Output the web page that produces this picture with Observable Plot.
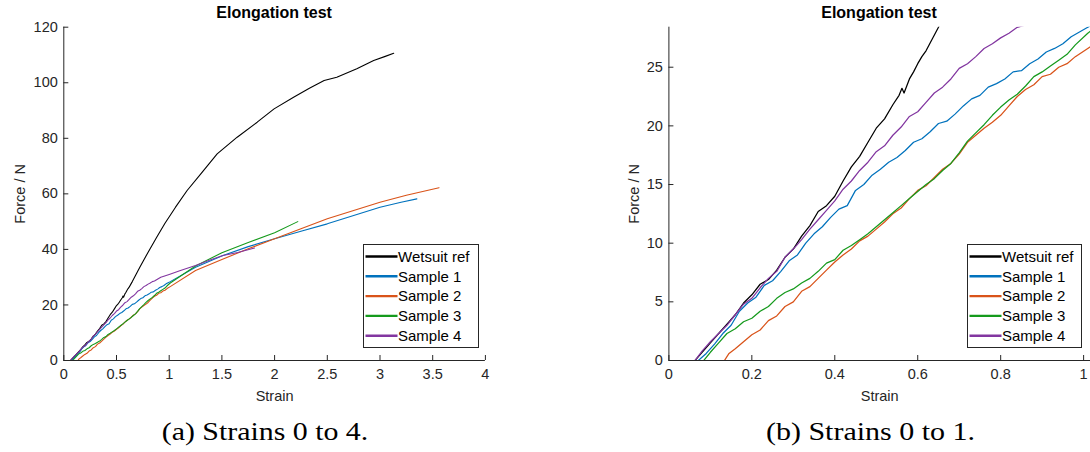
<!DOCTYPE html>
<html>
<head>
<meta charset="utf-8">
<script src="https://cdn.jsdelivr.net/npm/d3@7"></script>
<script src="https://cdn.jsdelivr.net/npm/@observablehq/plot@0.6"></script>
<style>
  html, body { margin: 0; padding: 0; background: #fff; }
  body { width: 1090px; height: 452px; position: relative; overflow: hidden; }
  .panel { position: absolute; top: 0; }
  .panel svg { background: transparent; }
</style>
</head>
<body>
<div id="pa" class="panel" style="left:0px"></div>
<div id="pb" class="panel" style="left:545px"></div>
<script>
// ---------------- data ----------------
const seriesNames  = ["Wetsuit ref", "Sample 1", "Sample 2", "Sample 3", "Sample 4"];
const seriesColors = ["#000000", "#0072BD", "#D95319", "#159A1C", "#8236A0"];

const titleText = "Elongation test";
const xLabel = "Strain";
const yLabel = "Force / N";
const captions = ["(a) Strains 0 to 4.", "(b) Strains 0 to 1."];

const xTicksA = [0, 0.5, 1, 1.5, 2, 2.5, 3, 3.5, 4];
const xTickLabelsA = ["0", "0.5", "1", "1.5", "2", "2.5", "3", "3.5", "4"];
const yTicksA = [0, 20, 40, 60, 80, 100, 120];
const yTickLabelsA = ["0", "20", "40", "60", "80", "100", "120"];
const xTicksB = [0, 0.2, 0.4, 0.6, 0.8, 1];
const xTickLabelsB = ["0", "0.2", "0.4", "0.6", "0.8", "1"];
const yTicksB = [0, 5, 10, 15, 20, 25];
const yTickLabelsB = ["0", "5", "10", "15", "20", "25"];

const wetsuitStrain = [0.063,0.08,0.10,0.12,0.14,0.16,0.18,0.20,0.22,0.24,0.26,0.28,0.30,0.32,0.34,0.36,0.38,0.40,0.42,0.44,0.46,0.48,0.50,0.52,0.54,0.555,0.562,0.567,0.58,0.59,0.60,0.61,0.62,0.635,0.65,0.67,0.72,0.80,0.88,0.96,1.06,1.17,1.30,1.455,1.645,1.835,1.995,2.18,2.33,2.47,2.59,2.78,2.94,3.05,3.13];
const wetsuitForce  = [0,0.7,1.5,2.3,3.1,3.9,4.9,5.6,6.5,6.9,7.7,8.8,9.5,10.6,11.5,12.7,13.2,14.0,15.3,16.5,17.4,18.6,19.8,20.6,21.8,22.6,23.2,22.8,24.0,24.6,25.3,25.9,26.4,27.4,28.4,29.9,33.5,39.0,44.3,49.4,55.2,61.2,67.2,74.4,80.4,85.8,90.6,94.8,98.0,100.8,102.0,105.0,108.0,109.5,110.6];

const sample1Strain = [0.071,0.09,0.11,0.13,0.15,0.17,0.19,0.21,0.23,0.25,0.27,0.29,0.31,0.33,0.35,0.37,0.39,0.41,0.43,0.45,0.47,0.49,0.51,0.53,0.55,0.57,0.59,0.61,0.63,0.65,0.67,0.69,0.71,0.73,0.75,0.77,0.79,0.81,0.83,0.85,0.87,0.89,0.91,0.93,0.95,0.97,0.99,1.01,1.25,1.51,1.75,2.0,2.25,2.5,2.75,3.0,3.2,3.35];
const sample1Force  = [0,0.6,1.4,2.3,3.0,4.2,4.9,5.4,6.4,6.8,7.6,8.5,9.0,10.0,10.8,11.4,12.2,12.9,13.2,14.5,15.0,15.8,16.3,16.9,17.3,17.9,18.6,18.9,19.5,20.2,20.4,21.0,21.7,22.3,22.6,23.3,23.6,24.0,24.6,24.7,25.3,25.7,26.3,26.6,27.0,27.6,28.0,28.4,33.6,37.8,41.0,43.8,46.5,49.2,52.2,55.2,57.0,58.2];

const sample2Strain = [0.134,0.145,0.16,0.18,0.20,0.22,0.24,0.26,0.28,0.30,0.32,0.34,0.36,0.38,0.40,0.42,0.44,0.46,0.48,0.50,0.52,0.54,0.56,0.58,0.60,0.62,0.64,0.66,0.68,0.70,0.72,0.74,0.76,0.78,0.80,0.82,0.84,0.86,0.88,0.90,0.92,0.94,0.96,0.98,1.01,1.25,1.5,1.75,2.0,2.25,2.5,2.75,3.0,3.25,3.56];
const sample2Force  = [0,0.6,1.0,1.6,2.2,2.6,3.4,3.8,4.6,5.0,5.9,6.3,7.0,7.7,8.4,9.0,9.5,10.2,10.6,11.2,11.8,12.5,13.0,13.8,14.5,14.9,15.6,16.3,16.8,17.6,18.6,19.2,19.8,20.3,20.9,21.7,22.5,23.1,23.5,24.2,24.4,25.0,25.3,25.9,26.6,32.4,36.4,40.2,43.8,47.4,51.0,54.0,57.0,59.5,62.2];

const sample3Strain = [0.084,0.10,0.12,0.14,0.16,0.18,0.20,0.22,0.24,0.26,0.28,0.30,0.32,0.34,0.36,0.38,0.40,0.42,0.44,0.46,0.48,0.50,0.52,0.54,0.56,0.58,0.60,0.62,0.64,0.66,0.68,0.70,0.72,0.74,0.76,0.78,0.80,0.82,0.84,0.86,0.88,0.90,0.92,0.94,0.96,0.98,1.01,1.25,1.5,1.75,2.0,2.22];
const sample3Force  = [0,0.7,1.5,2.3,2.7,3.3,3.6,4.2,4.6,5.3,5.8,6.1,6.6,7.0,7.6,8.3,8.6,9.4,9.8,10.3,10.8,11.4,12.0,12.6,13.2,13.8,14.4,15.0,15.5,16.2,16.8,17.7,18.7,19.4,20.1,20.9,21.6,22.2,22.7,23.4,24.2,24.6,25.1,25.6,26.1,26.9,27.9,34.0,38.8,42.5,46.0,50.0];

const sample4Strain = [0.063,0.08,0.10,0.12,0.14,0.16,0.18,0.20,0.22,0.24,0.26,0.28,0.30,0.32,0.34,0.36,0.38,0.40,0.42,0.44,0.46,0.48,0.50,0.52,0.54,0.56,0.58,0.60,0.62,0.64,0.66,0.68,0.70,0.72,0.74,0.76,0.78,0.80,0.82,0.84,0.86,0.92,1.0,1.1,1.25,1.4,1.51,1.65,1.81];
const sample4Force  = [0,0.8,1.6,2.3,3.0,3.9,4.8,5.3,6.2,7.0,7.6,8.8,9.5,10.3,11.2,12.0,12.8,13.6,14.6,15.3,16.2,16.9,17.8,18.3,19.2,19.9,20.8,21.2,22.0,22.8,23.3,24.0,24.9,25.3,25.9,26.6,27.0,27.5,27.9,28.4,28.6,30.0,31.0,32.3,34.2,36.4,37.8,38.9,40.5];

const seriesStrain = [wetsuitStrain, sample1Strain, sample2Strain, sample3Strain, sample4Strain];
const seriesForce  = [wetsuitForce, sample1Force, sample2Force, sample3Force, sample4Force];

// ---------------- table ----------------
const rows = [];
seriesNames.forEach((name, s) => {
  seriesStrain[s].forEach((x, i) => rows.push({series: name, strain: x, force: seriesForce[s][i]}));
});

const FONT = "'Liberation Sans', Arial, Helvetica, sans-serif";
const AXIS = "#262626";

function makePanel({xDomain, yDomain, xTicks, xLabels, yTicks, yLabels, marginLeft, marginRight, yLabelOffset, strokeWidth}) {
  return Plot.plot({
    width: 545,
    height: 410,
    marginTop: 26.7,
    marginBottom: 50,
    marginLeft,
    marginRight,
    style: {fontFamily: FONT, fontSize: "14.5px", color: AXIS, background: "transparent", overflow: "visible"},
    x: {domain: xDomain},
    y: {domain: yDomain},
    color: {domain: seriesNames, range: seriesColors},
    marks: [
      Plot.line(rows, {x: "strain", y: "force", z: "series", stroke: "series", strokeWidth, clip: true}),
      Plot.ruleX([0], {stroke: AXIS, strokeWidth: 1}),
      Plot.ruleY([0], {stroke: AXIS, strokeWidth: 1}),
      Plot.axisX(xTicks, {
        tickSize: -5, tickPadding: 13.5,
        tickFormat: d => xLabels[xTicks.indexOf(d)],
        label: xLabel, labelAnchor: "center", labelOffset: 40.5, labelArrow: "none"
      }),
      Plot.axisY(yTicks, {
        tickSize: -5, tickPadding: 11,
        tickFormat: d => yLabels[yTicks.indexOf(d)],
        label: yLabel, labelAnchor: "center", labelOffset: yLabelOffset, labelArrow: "none"
      })
    ]
  });
}

document.getElementById("pa").append(makePanel({
  xDomain: [0, 4], yDomain: [0, 120],
  xTicks: xTicksA, xLabels: xTickLabelsA, yTicks: yTicksA, yLabels: yTickLabelsA,
  marginLeft: 63.3, marginRight: 60.1, yLabelOffset: 49.4, strokeWidth: 1.1
}));

document.getElementById("pb").append(makePanel({
  xDomain: [0, 1.0166], yDomain: [0, 28.41],
  xTicks: xTicksB, xLabels: xTickLabelsB, yTicks: yTicksB, yLabels: yTickLabelsB,
  marginLeft: 123.4, marginRight: 0, yLabelOffset: 40, strokeWidth: 1.25
}));

// ---------------- titles, legends, captions ----------------
const overlay = d3.select("body").append("svg")
  .attr("width", 1090).attr("height", 452)
  .style("position", "absolute").style("left", "0px").style("top", "0px")
  .style("pointer-events", "none");

[274.1, 879].forEach(cx => {
  overlay.append("text")
    .attr("x", cx).attr("y", 18.3)
    .attr("text-anchor", "middle")
    .attr("font-family", FONT).attr("font-weight", "bold").attr("font-size", 16)
    .attr("fill", "#000")
    .text(titleText);
});

function legend(x0, y0, w, h) {
  const g = overlay.append("g");
  g.append("rect").attr("x", x0 + 0.5).attr("y", y0 + 0.5).attr("width", w).attr("height", h)
    .attr("fill", "#fff").attr("stroke", AXIS).attr("stroke-width", 1);
  seriesNames.forEach((name, i) => {
    const base = y0 + 17.7 + i * 19.8;
    g.append("line").attr("x1", x0 + 2.5).attr("x2", x0 + 34.5)
      .attr("y1", base - 5.2).attr("y2", base - 5.2)
      .attr("stroke", seriesColors[i]).attr("stroke-width", 2.4);
    g.append("text").attr("x", x0 + 35).attr("y", base)
      .attr("font-family", FONT).attr("font-size", 15).attr("fill", "#000")
      .text(name);
  });
}
legend(363, 244, 115, 103);
legend(967, 244, 114, 103);

[[161.7, 206.6], [766, 209]].forEach(([x, len], i) => {
  overlay.append("text")
    .attr("x", x).attr("y", 440)
    .attr("font-family", "'Liberation Serif', 'Times New Roman', serif")
    .attr("font-size", 26)
    .attr("textLength", len).attr("lengthAdjust", "spacingAndGlyphs")
    .attr("fill", "#000")
    .text(captions[i]);
});
</script>
</body>
</html>
